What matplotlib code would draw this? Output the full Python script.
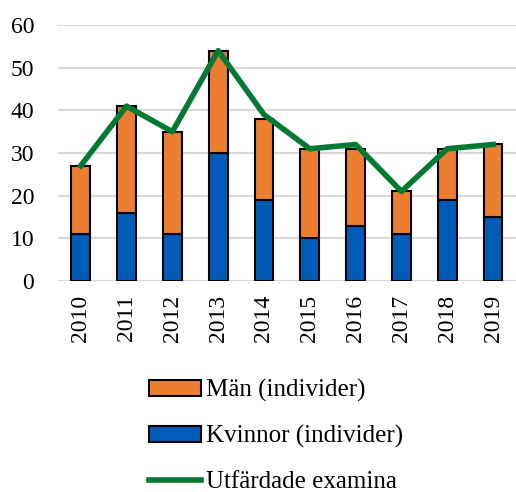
import numpy as np
import matplotlib
matplotlib.use("Agg")
import matplotlib.pyplot as plt

years = ["2010", "2011", "2012", "2013", "2014", "2015", "2016", "2017", "2018", "2019"]
kvinnor = [11, 16, 11, 30, 19, 10, 13, 11, 19, 15]
man = [16, 25, 24, 24, 19, 21, 18, 10, 12, 17]
examina = [27, 41, 35, 54, 39, 31, 32, 21, 31, 32]

plt.rcParams['font.family'] = ['Liberation Serif', 'DejaVu Serif']

fig = plt.figure(figsize=(5.16, 4.92), dpi=100)
ax = fig.add_axes([0.112, 0.429, 0.888, 0.52])

x = np.arange(len(years))
w = 0.41
b1 = ax.bar(x, kvinnor, w, color="#005CB9", edgecolor="black", linewidth=1.5,
            label="Kvinnor (individer)", zorder=3)
b2 = ax.bar(x, man, w, bottom=kvinnor, color="#ED7D31", edgecolor="black",
            linewidth=1.5, label="Män (individer)", zorder=3)
l1, = ax.plot(x, examina, color="#007A33", linewidth=4, label="Utfärdade examina",
              zorder=4)

ax.set_ylim(0, 60)
ax.set_xlim(-0.5, 9.5)
ax.set_yticks(range(0, 61, 10))
ax.set_xticks(x)
ax.set_xticklabels(years, rotation=90)
ax.tick_params(axis="both", length=0, labelsize=17, colors="black")
ax.tick_params(axis="y", pad=17)
ax.tick_params(axis="x", pad=10)
ax.yaxis.grid(True, color="#d9d9d9", linewidth=1.5, zorder=0)
ax.set_axisbelow(True)
for s in ax.spines.values():
    s.set_visible(False)

fig.legend([b2, b1, l1], ["Män (individer)", "Kvinnor (individer)", "Utfärdade examina"],
           loc="upper center", bbox_to_anchor=(0.535, 0.25), frameon=False,
           fontsize=18, handlelength=2.1, handleheight=0.65, labelspacing=0.92,
           handletextpad=0.2, borderaxespad=0)

fig.savefig("out.png", dpi=100)
